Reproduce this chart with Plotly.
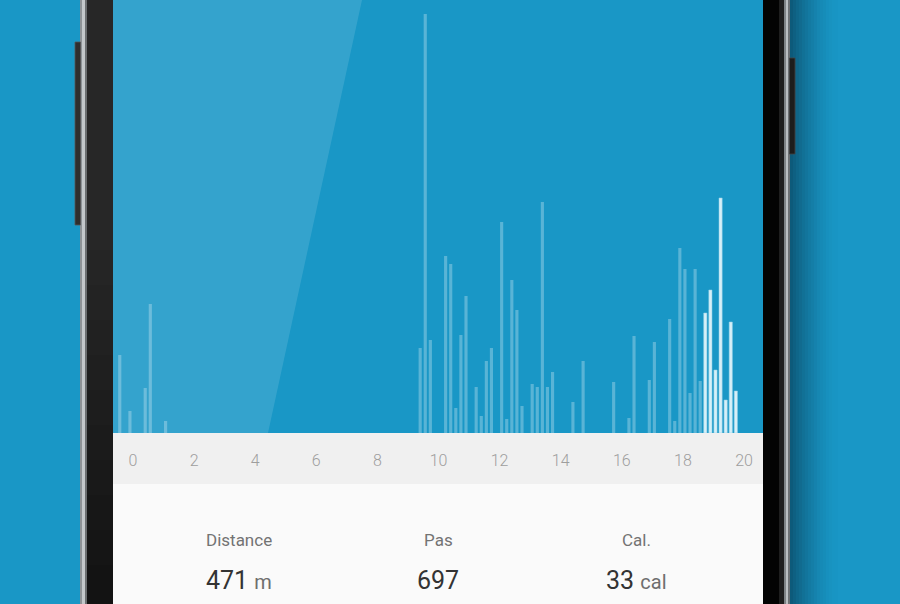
import plotly.graph_objects as go

# ---- data: steps per 10-minute slot (slot start, minutes from axis origin) ----
slot_start_min = [-30, -10, 20, 30, 60,
                  560, 570, 580, 610, 620, 630, 640, 650, 670, 680, 690, 700,
                  720, 730, 740, 750, 760, 780, 790, 800, 810, 820, 860, 880,
                  940, 970, 980, 1010, 1020, 1050, 1060, 1070, 1080, 1090, 1100, 1110,
                  1120, 1130, 1140, 1150, 1160, 1170, 1180]
steps = [78, 22, 45, 129, 12,
         85, 419, 93, 177, 169, 25, 98, 137, 46, 17, 72, 85,
         211, 14, 153, 123, 27, 49, 46, 231, 46, 61, 31, 72,
         51, 15, 97, 53, 91, 114, 12, 185, 164, 40, 164, 52,
         120, 143, 63, 235, 33, 111, 42]
highlight_from_min = 1120

tick_hours = [0, 2, 4, 6, 8, 10, 12, 14, 16, 18, 20]
tick_labels = [str(h) for h in tick_hours]

stat_labels = ["Distance", "Pas", "Cal."]
stat_values = ["471", "697", "33"]
stat_units = ["m", "", "cal"]

# ---- geometry helpers ----
W, H = 900, 604
def px(x):
    return x / W
def py(y):
    return 1 - y / H

BG = "#1997c6"
SLOT_H = 10 / 60

hours = [m / 60 for m in slot_start_min]
faint_x = [h for h, m in zip(hours, slot_start_min) if m < highlight_from_min]
faint_y = [s for s, m in zip(steps, slot_start_min) if m < highlight_from_min]
bright_x = [h for h, m in zip(hours, slot_start_min) if m >= highlight_from_min]
bright_y = [s for s, m in zip(steps, slot_start_min) if m >= highlight_from_min]

bar_w = 0.62 * SLOT_H
bar_off = 0.09 * SLOT_H

fig = go.Figure()
fig.add_trace(go.Bar(x=faint_x, y=faint_y, width=bar_w, offset=bar_off,
                     marker=dict(color="rgba(255,255,255,0.28)", line=dict(width=0)),
                     hoverinfo="skip", showlegend=False))
fig.add_trace(go.Bar(x=bright_x, y=bright_y, width=bar_w, offset=bar_off,
                     marker=dict(color="rgba(236,249,253,0.9)",
                                 line=dict(width=0.6, color="rgba(150,210,232,0.9)")),
                     hoverinfo="skip", showlegend=False))

shapes = []
def rect(x0, y0, x1, y1, color, layer="below"):
    shapes.append(dict(type="rect", xref="paper", yref="paper",
                       x0=px(x0), x1=px(x1), y0=py(y1), y1=py(y0),
                       fillcolor=color, line=dict(width=0), layer=layer))

# right-side phone shadow
n = 16
for i in range(n):
    a = 0.55 * (1 - i / n) ** 1.6
    rect(790 + i * 3, 0, 793 + i * 3, 604, f"rgba(4,40,60,{a:.3f})")

# phone body left
rect(80, 0, 82, 604, "#8d9296")
rect(82, 0, 85, 604, "#c3c7ca")
rect(85, 0, 87, 604, "#6b6e70")
rect(87, 0, 113, 604, "#272727")
for i in range(10):
    rect(87, 250 + i * 35, 113, 604, "rgba(0,0,0,0.05)")
# left button
shapes.append(dict(type="rect", xref="paper", yref="paper",
                   x0=px(75), x1=px(80.5), y0=py(225), y1=py(42),
                   fillcolor="#2e2e2e", line=dict(width=0.8, color="#555"), layer="below"))
# phone body right
rect(763, 0, 779, 604, "#030303")
rect(779, 0, 784, 604, "#1e1e1e")
rect(784, 0, 786, 604, "#7d8285")
rect(786, 0, 788, 604, "#b9bdc0")
rect(788, 0, 790, 604, "#6c7073")
shapes.append(dict(type="rect", xref="paper", yref="paper",
                   x0=px(789.5), x1=px(795), y0=py(154), y1=py(58),
                   fillcolor="#1d1d1d", line=dict(width=0.8, color="#444"), layer="below"))

# screen areas
rect(113, 0, 763, 433, BG)
# glare
shapes.append(dict(type="path", xref="paper", yref="paper",
                   path=f"M {px(113)},{py(0)} L {px(362)},{py(0)} L {px(268)},{py(433)} L {px(113)},{py(433)} Z",
                   fillcolor="rgba(255,255,255,0.12)", line=dict(width=0), layer="below"))
rect(113, 433, 763, 484, "#f0f0f0")
rect(113, 484, 763, 604, "#fafafa")

annotations = []
label_x = [239, 438, 636]
for lx, lab, val, unit in zip(label_x, stat_labels, stat_values, stat_units):
    annotations.append(dict(xref="paper", yref="paper", x=px(lx), y=py(540),
                            text=lab, showarrow=False, xanchor="center", yanchor="middle",
                            font=dict(family="Roboto", size=17, color="#737373")))
    if unit:
        txt = f"{val} <span style='font-size:20px;color:#6e6e6e'>{unit}</span>"
    else:
        txt = val
    annotations.append(dict(xref="paper", yref="paper", x=px(lx), y=py(580),
                            text=txt, showarrow=False, xanchor="center", yanchor="middle",
                            font=dict(family="Roboto", size=25, color="#333333")))

x0_hour = (113 - 133) / 30.55
x1_hour = (763 - 133) / 30.55

fig.update_layout(
    width=W, height=H,
    margin=dict(l=0, r=0, t=0, b=0),
    paper_bgcolor=BG,
    plot_bgcolor="rgba(0,0,0,0)",
    barmode="overlay",
    shapes=shapes,
    annotations=annotations,
    xaxis=dict(domain=[px(113), px(763)], range=[x0_hour, x1_hour],
               tickvals=tick_hours, ticktext=tick_labels,
               ticks="outside", ticklen=13, tickcolor="rgba(0,0,0,0)",
               tickfont=dict(family="Roboto", size=16, color="#9e9e9e", weight=300),
               showgrid=False, zeroline=False, showline=False, fixedrange=True),
    yaxis=dict(domain=[py(433), 1], range=[0, 433], visible=False,
               showgrid=False, zeroline=False, fixedrange=True),
)

fig.write_html("out.html", config={"displayModeBar": False},
               post_script="document.body.style.margin='0';document.body.style.overflow='hidden';")
